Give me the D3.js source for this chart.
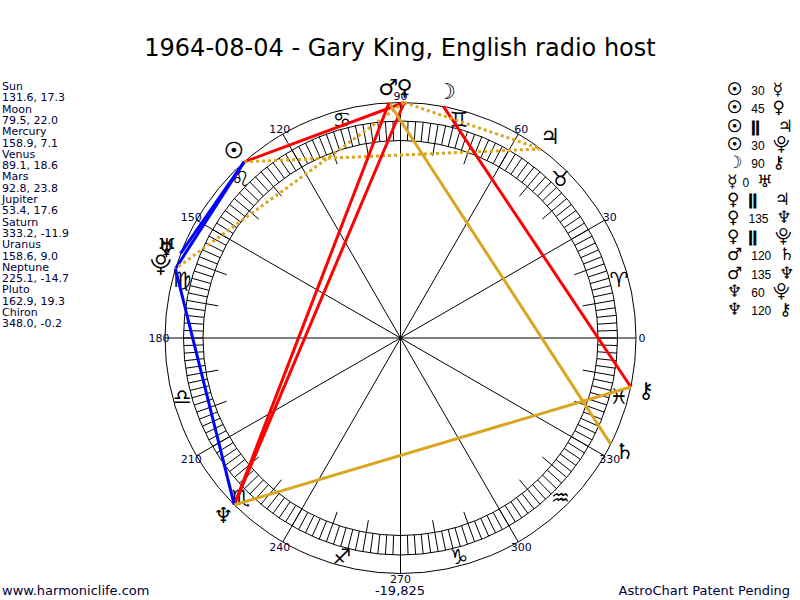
<!DOCTYPE html>
<html>
<head>
<meta charset="utf-8">
<script src="https://cdn.jsdelivr.net/npm/d3@7"></script>
<style>
  body { margin: 0; background: #fff; }
  svg { display: block; }
</style>
</head>
<body>
<script>
// chart data
const title = "1964-08-04 - Gary King, English radio host";
const planetNames = ["Sun", "Moon", "Mercury", "Venus", "Mars", "Jupiter", "Saturn", "Uranus", "Neptune", "Pluto", "Chiron"];
const longitudes = [131.6, 79.5, 158.9, 89.1, 92.8, 53.4, 333.2, 158.6, 225.1, 162.9, 348.0];
const declinations = [17.3, 22.0, 7.1, 18.6, 23.8, 17.6, -11.9, 9.0, -14.7, 19.3, -0.2];
const planetGlyphs = ["\u2609", "\u263D", "\u263F", "\u2640", "\u2642", "\u2643", "\u2644", "\u2645", "\u2646", "\u2BD3", "\u26B7"];
const signGlyphs = ["\u2648", "\u2649", "\u264A", "\u264B", "\u264C", "\u264D", "\u264E", "\u264F", "\u2650", "\u2651", "\u2652", "\u2653"];
const aspectFrom = ["Sun", "Sun", "Sun", "Sun", "Moon", "Mercury", "Venus", "Venus", "Venus", "Mars", "Mars", "Neptune", "Neptune"];
const aspectTo = ["Mercury", "Venus", "Jupiter", "Pluto", "Chiron", "Uranus", "Jupiter", "Neptune", "Pluto", "Saturn", "Neptune", "Pluto", "Chiron"];
const aspectKind = ["30", "45", "||", "30", "90", "0", "||", "135", "||", "120", "135", "60", "120"];
const degreeLabels = d3.range(0, 360, 30);
const chartCode = "-19,825";
const siteText = "www.harmoniclife.com";
const patentText = "AstroChart Patent Pending";

const width = 800, height = 600;
const cx = 400.5, cy = 338;
const rOuter = 235.5, rBandOut = 217, rBandIn = 197.5, rTick = 185;
const rSign = 226, rLabel = 241.5, rPlanet = 251;
const ink = "#000038";
const font = "DejaVu Sans, Verdana, sans-serif";

// degrees -> radians, 0 at east, counter-clockwise
const angle = d3.scaleLinear().domain([0, 360]).range([0, 2 * Math.PI]);
const px = (deg, r) => cx + r * Math.cos(angle(deg));
const py = (deg, r) => cy - r * Math.sin(angle(deg));

const aspectColor = d3.scaleOrdinal()
    .domain(["0", "30", "45", "60", "90", "120", "135", "||"])
    .range(["#0000ff", "#0000ff", "#ff0000", "#0000ff", "#ff0000", "#daa520", "#ff0000", "#daa520"]);

const lon = name => longitudes[planetNames.indexOf(name)];
const glyphOf = name => planetGlyphs[planetNames.indexOf(name)];

const svg = d3.select("body").append("svg")
    .attr("width", width)
    .attr("height", height)
    .attr("viewBox", [0, 0, width, height]);

svg.append("text")
    .attr("x", 400).attr("y", 56)
    .attr("text-anchor", "middle")
    .attr("font-family", font)
    .attr("font-size", 24)
    .attr("fill", "#000")
    .text(title);

// left panel: name / longitude, declination
const panel = svg.append("g")
    .attr("font-family", font)
    .attr("font-size", 11)
    .attr("fill", ink);
planetNames.forEach((n, i) => {
  panel.append("text").attr("x", 2).attr("y", 90 + i * 2 * 11.3).text(n);
  panel.append("text").attr("x", 2).attr("y", 90 + (i * 2 + 1) * 11.3)
      .text(`${longitudes[i].toFixed(1)}, ${declinations[i].toFixed(1)}`);
});

// wheel
const wheel = svg.append("g").attr("stroke", "#000").attr("stroke-width", 1).attr("fill", "none");
[rOuter, rBandOut, rBandIn].forEach(r =>
  wheel.append("circle").attr("cx", cx).attr("cy", cy).attr("r", r));

wheel.selectAll("line.hatch")
  .data(d3.range(0, 360, 2))
  .join("line")
    .attr("class", "hatch")
    .attr("x1", d => px(d, rBandIn)).attr("y1", d => py(d, rBandIn))
    .attr("x2", d => px(d, rBandOut)).attr("y2", d => py(d, rBandOut));

wheel.selectAll("line.tick")
  .data(d3.range(0, 360, 10).filter(d => d % 30 !== 0))
  .join("line")
    .attr("class", "tick")
    .attr("x1", d => px(d, rTick)).attr("y1", d => py(d, rTick))
    .attr("x2", d => px(d, rBandIn)).attr("y2", d => py(d, rBandIn));

wheel.selectAll("line.spoke")
  .data(degreeLabels)
  .join("line")
    .attr("class", "spoke")
    .attr("x1", cx).attr("y1", cy)
    .attr("x2", d => px(d, rOuter)).attr("y2", d => py(d, rOuter));

svg.append("g")
    .attr("font-family", font)
    .attr("font-size", 11)
    .attr("fill", ink)
    .attr("text-anchor", "middle")
  .selectAll("text")
  .data(degreeLabels)
  .join("text")
    .attr("x", d => px(d, rLabel))
    .attr("y", d => py(d, rLabel))
    .attr("dy", "0.36em")
    .text(d => d);

svg.append("g")
    .attr("font-family", font)
    .attr("font-size", 21)
    .attr("fill", "#000")
    .attr("text-anchor", "middle")
  .selectAll("text")
  .data(signGlyphs)
  .join("text")
    .attr("x", (d, i) => px(i * 30 + 15, rSign))
    .attr("y", (d, i) => py(i * 30 + 15, rSign))
    .attr("dy", "0.35em")
    .text(d => d);

// aspect lines
svg.append("g")
    .attr("stroke-width", 3)
    .attr("fill", "none")
  .selectAll("line")
  .data(d3.range(aspectKind.length))
  .join("line")
    .attr("x1", i => px(lon(aspectFrom[i]), rOuter))
    .attr("y1", i => py(lon(aspectFrom[i]), rOuter))
    .attr("x2", i => px(lon(aspectTo[i]), rOuter))
    .attr("y2", i => py(lon(aspectTo[i]), rOuter))
    .attr("stroke", i => aspectColor(aspectKind[i]))
    .attr("stroke-dasharray", i => aspectKind[i] === "||" ? "3,3" : null);

// planet glyphs
svg.append("g")
    .attr("font-family", font)
    .attr("font-size", 22)
    .attr("fill", "#000")
    .attr("text-anchor", "middle")
  .selectAll("text")
  .data(d3.range(planetNames.length))
  .join("text")
    .attr("x", i => px(longitudes[i], rPlanet))
    .attr("y", i => py(longitudes[i], rPlanet))
    .attr("dy", "0.35em")
    .attr("font-weight", i => i === 0 ? "bold" : null)
    .attr("stroke", i => i === 0 ? "#000" : null)
    .attr("stroke-width", 0.6)
    .text(i => planetGlyphs[i]);

// aspect list on the right
const legend = svg.append("g").attr("font-family", font).attr("fill", "#000");
aspectKind.forEach((k, i) => {
  const sunFirst = aspectFrom[i] === "Sun";
  const t = legend.append("text").attr("x", 727).attr("y", 95 + i * 18.35);
  t.append("tspan").attr("font-size", 17)
      .attr("font-weight", sunFirst ? "bold" : null)
      .attr("stroke", sunFirst ? "#000" : null)
      .attr("stroke-width", 0.5)
      .text(glyphOf(aspectFrom[i]));
  t.append("tspan").attr("dx", k === "0" ? 5 : 9)
      .attr("font-family", "Liberation Sans, Arial, sans-serif")
      .attr("font-size", k === "||" ? 15 : 12)
      .attr("font-weight", k === "||" ? "bold" : null)
      .attr("stroke", k === "||" ? "#000" : null)
      .attr("stroke-width", 0.8)
      .text(k);
  t.append("tspan").attr("dx", k === "||" ? 18 : 8).attr("font-size", 17)
      .text(glyphOf(aspectTo[i]));
});

const foot = svg.append("g").attr("font-family", font).attr("font-size", 13).attr("fill", ink);
foot.append("text").attr("x", 2).attr("y", 595).text(siteText);
foot.append("text").attr("x", 400).attr("y", 595).attr("text-anchor", "middle").text(chartCode);
foot.append("text").attr("x", 790).attr("y", 595).attr("text-anchor", "end").text(patentText);
</script>
</body>
</html>
